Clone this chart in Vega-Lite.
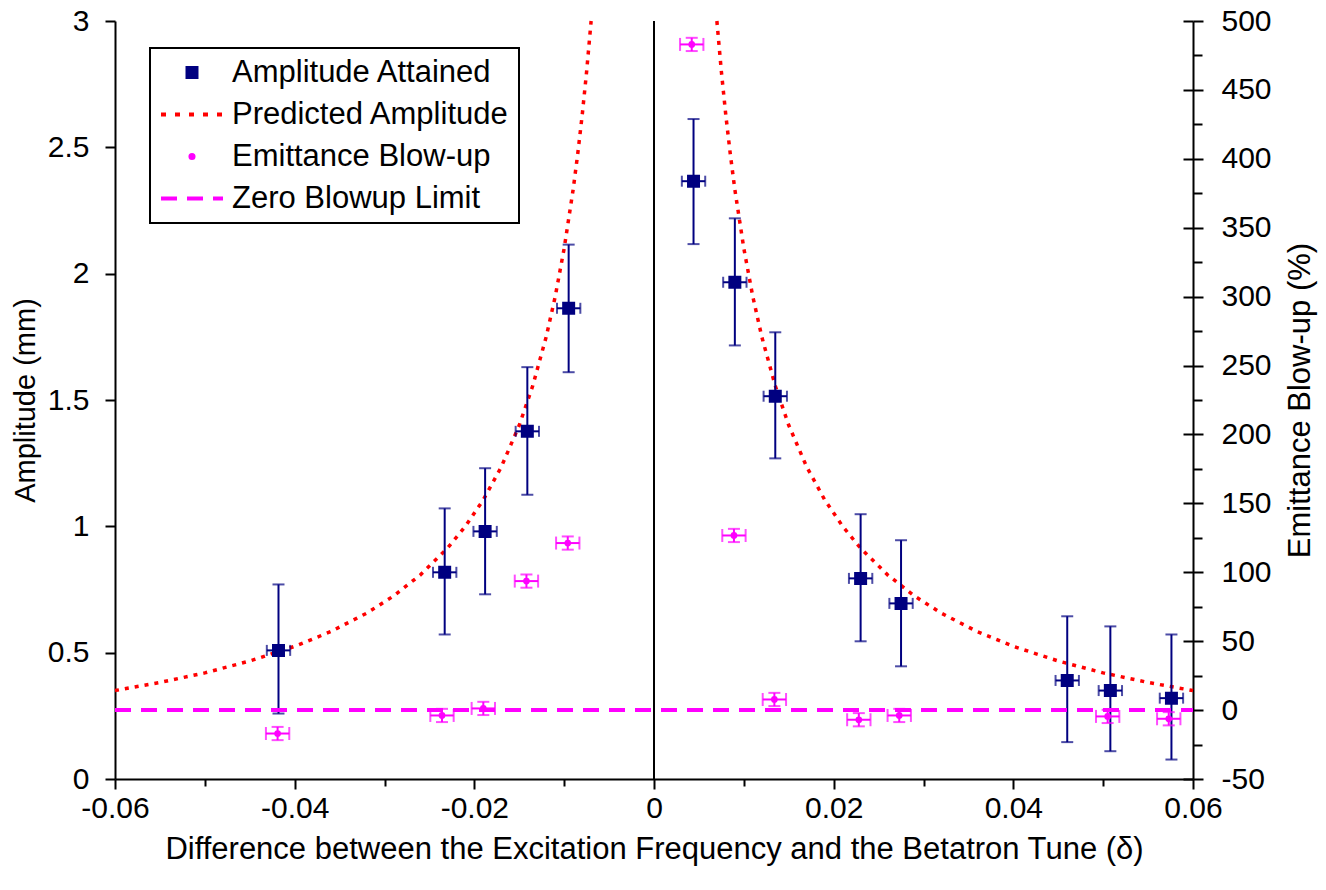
{
  "$schema": "https://vega.github.io/schema/vega-lite/v6.json",
  "width": 1078,
  "height": 758,
  "autosize": {"type": "none"},
  "padding": {"left": 115, "top": 21, "right": 133, "bottom": 111},
  "background": "white",
  "config": {
    "view": {"stroke": null},
    "font": "Liberation Sans",
    "legend": {"strokeWidth": 2},
    "axis": {
      "labelFont": "Liberation Sans", "titleFont": "Liberation Sans",
      "labelColor": "black", "titleColor": "black",
      "tickColor": "black", "domainColor": "black",
      "tickWidth": 2, "domainWidth": 2, "grid": false,
      "labelFontSize": 30, "titleFontSize": 31, "titleFontWeight": "normal",
      "labelFlush": false, "labelOverlap": false
    }
  },
  "datasets": {
    "origin": [{"d": 0}],
    "curve": [
      {"d": -0.06, "A": 0.350, "branch": "L"},
      {"d": -0.055, "A": 0.382, "branch": "L"},
      {"d": -0.05, "A": 0.420, "branch": "L"},
      {"d": -0.045, "A": 0.467, "branch": "L"},
      {"d": -0.04, "A": 0.525, "branch": "L"},
      {"d": -0.036, "A": 0.583, "branch": "L"},
      {"d": -0.032, "A": 0.656, "branch": "L"},
      {"d": -0.029, "A": 0.724, "branch": "L"},
      {"d": -0.026, "A": 0.808, "branch": "L"},
      {"d": -0.023, "A": 0.913, "branch": "L"},
      {"d": -0.021, "A": 1.000, "branch": "L"},
      {"d": -0.019, "A": 1.105, "branch": "L"},
      {"d": -0.017, "A": 1.235, "branch": "L"},
      {"d": -0.015, "A": 1.400, "branch": "L"},
      {"d": -0.0135, "A": 1.556, "branch": "L"},
      {"d": -0.012, "A": 1.750, "branch": "L"},
      {"d": -0.011, "A": 1.909, "branch": "L"},
      {"d": -0.010, "A": 2.100, "branch": "L"},
      {"d": -0.009, "A": 2.333, "branch": "L"},
      {"d": -0.0085, "A": 2.471, "branch": "L"},
      {"d": -0.008, "A": 2.625, "branch": "L"},
      {"d": -0.0075, "A": 2.800, "branch": "L"},
      {"d": -0.007, "A": 3.000, "branch": "L"},
      {"d": 0.007, "A": 3.000, "branch": "R"},
      {"d": 0.0075, "A": 2.800, "branch": "R"},
      {"d": 0.008, "A": 2.625, "branch": "R"},
      {"d": 0.0085, "A": 2.471, "branch": "R"},
      {"d": 0.009, "A": 2.333, "branch": "R"},
      {"d": 0.010, "A": 2.100, "branch": "R"},
      {"d": 0.011, "A": 1.909, "branch": "R"},
      {"d": 0.012, "A": 1.750, "branch": "R"},
      {"d": 0.0135, "A": 1.556, "branch": "R"},
      {"d": 0.015, "A": 1.400, "branch": "R"},
      {"d": 0.017, "A": 1.235, "branch": "R"},
      {"d": 0.019, "A": 1.105, "branch": "R"},
      {"d": 0.021, "A": 1.000, "branch": "R"},
      {"d": 0.023, "A": 0.913, "branch": "R"},
      {"d": 0.026, "A": 0.808, "branch": "R"},
      {"d": 0.029, "A": 0.724, "branch": "R"},
      {"d": 0.032, "A": 0.656, "branch": "R"},
      {"d": 0.036, "A": 0.583, "branch": "R"},
      {"d": 0.04, "A": 0.525, "branch": "R"},
      {"d": 0.045, "A": 0.467, "branch": "R"},
      {"d": 0.05, "A": 0.420, "branch": "R"},
      {"d": 0.055, "A": 0.382, "branch": "R"},
      {"d": 0.06, "A": 0.350, "branch": "R"}
    ],
    "amp": [
      {"d": -0.0418, "A": 0.509, "Alo": 0.259, "Ahi": 0.770, "dlo": -0.0431, "dhi": -0.0405, "series": "Amplitude Attained"},
      {"d": -0.0233, "A": 0.818, "Alo": 0.572, "Ahi": 1.071, "dlo": -0.0246, "dhi": -0.0220, "series": "Amplitude Attained"},
      {"d": -0.0188, "A": 0.980, "Alo": 0.731, "Ahi": 1.230, "dlo": -0.0201, "dhi": -0.0175, "series": "Amplitude Attained"},
      {"d": -0.0141, "A": 1.376, "Alo": 1.125, "Ahi": 1.630, "dlo": -0.0154, "dhi": -0.0128, "series": "Amplitude Attained"},
      {"d": -0.0095, "A": 1.863, "Alo": 1.610, "Ahi": 2.115, "dlo": -0.0108, "dhi": -0.0082, "series": "Amplitude Attained"},
      {"d": 0.0044, "A": 2.366, "Alo": 2.117, "Ahi": 2.612, "dlo": 0.0031, "dhi": 0.0057, "series": "Amplitude Attained"},
      {"d": 0.0090, "A": 1.966, "Alo": 1.716, "Ahi": 2.219, "dlo": 0.0077, "dhi": 0.0103, "series": "Amplitude Attained"},
      {"d": 0.0135, "A": 1.515, "Alo": 1.269, "Ahi": 1.768, "dlo": 0.0122, "dhi": 0.0148, "series": "Amplitude Attained"},
      {"d": 0.0230, "A": 0.794, "Alo": 0.545, "Ahi": 1.048, "dlo": 0.0217, "dhi": 0.0243, "series": "Amplitude Attained"},
      {"d": 0.0275, "A": 0.695, "Alo": 0.446, "Ahi": 0.945, "dlo": 0.0262, "dhi": 0.0288, "series": "Amplitude Attained"},
      {"d": 0.0460, "A": 0.390, "Alo": 0.146, "Ahi": 0.644, "dlo": 0.0447, "dhi": 0.0473, "series": "Amplitude Attained"},
      {"d": 0.0508, "A": 0.350, "Alo": 0.110, "Ahi": 0.604, "dlo": 0.0495, "dhi": 0.0521, "series": "Amplitude Attained"},
      {"d": 0.0576, "A": 0.320, "Alo": 0.077, "Ahi": 0.572, "dlo": 0.0563, "dhi": 0.0589, "series": "Amplitude Attained"}
    ],
    "emit": [
      {"d": -0.0419, "E": -17, "Elo": -21.8, "Ehi": -12.2, "dlo": -0.0432, "dhi": -0.0406},
      {"d": -0.0236, "E": -3.9, "Elo": -8.7, "Ehi": 0.9, "dlo": -0.0249, "dhi": -0.0223},
      {"d": -0.0190, "E": 1.2, "Elo": -3.6, "Ehi": 6.0, "dlo": -0.0203, "dhi": -0.0177},
      {"d": -0.0142, "E": 93.6, "Elo": 88.8, "Ehi": 98.4, "dlo": -0.0155, "dhi": -0.0129},
      {"d": -0.0096, "E": 121.2, "Elo": 116.4, "Ehi": 126.0, "dlo": -0.0109, "dhi": -0.0083},
      {"d": 0.0042, "E": 483, "Elo": 478.2, "Ehi": 487.8, "dlo": 0.0029, "dhi": 0.0055},
      {"d": 0.0089, "E": 126.7, "Elo": 121.9, "Ehi": 131.5, "dlo": 0.0076, "dhi": 0.0102},
      {"d": 0.0134, "E": 7.7, "Elo": 2.9, "Ehi": 12.5, "dlo": 0.0121, "dhi": 0.0147},
      {"d": 0.0228, "E": -7.0, "Elo": -11.8, "Ehi": -2.2, "dlo": 0.0215, "dhi": 0.0241},
      {"d": 0.0273, "E": -3.9, "Elo": -8.7, "Ehi": 0.9, "dlo": 0.0260, "dhi": 0.0286},
      {"d": 0.0505, "E": -4.6, "Elo": -9.4, "Ehi": 0.2, "dlo": 0.0492, "dhi": 0.0518},
      {"d": 0.0573, "E": -6.3, "Elo": -11.1, "Ehi": -1.5, "dlo": 0.0560, "dhi": 0.0586}
    ],
    "zero": [{"d": -0.06, "E": 0}, {"d": 0.06, "E": 0}]
  },
  "resolve": {
    "scale": {"x": "shared", "y": "independent"},
    "axis": {"x": "independent", "y": "independent"}
  },
  "layer": [
    {
      "data": {"name": "origin"},
      "mark": {"type": "rule", "color": "black", "strokeWidth": 2},
      "encoding": {
        "x": {
          "field": "d", "type": "quantitative",
          "scale": {"domain": [-0.06, 0.06], "nice": false, "zero": false},
          "axis": {
            "orient": "bottom",
            "values": [-0.06, -0.04, -0.02, 0, 0.02, 0.04, 0.06],
            "labelExpr": "'' + round(datum.value * 100) / 100",
            "tickSize": 10, "labelPadding": 4,
            "title": "Difference between the Excitation Frequency and the Betatron Tune (δ)",
            "titlePadding": 11
          }
        }
      }
    },
    {
      "data": {"name": "curve"},
      "mark": {"type": "line", "color": "#ff0000", "strokeWidth": 3.5, "strokeDash": [4, 6]},
      "encoding": {
        "x": {"field": "d", "type": "quantitative", "scale": {"domain": [-0.06, 0.06], "nice": false, "zero": false}, "axis": null},
        "y": {
          "field": "A", "type": "quantitative",
          "scale": {"domain": [0, 3], "nice": false, "zero": false},
          "axis": {
            "orient": "left",
            "values": [0, 0.5, 1, 1.5, 2, 2.5, 3],
            "labelExpr": "'' + datum.value",
            "tickSize": 10, "labelPadding": 16,
            "title": "Amplitude (mm)", "titleFontSize": 29, "titlePadding": 7
          }
        },
        "detail": {"field": "branch"}
      }
    },
    {
      "data": {"name": "amp"},
      "mark": {"type": "errorbar", "ticks": true, "size": 12, "thickness": 2, "color": "#000080"},
      "encoding": {
        "x": {"field": "d", "type": "quantitative", "scale": {"domain": [-0.06, 0.06], "nice": false, "zero": false}, "axis": null},
        "y": {"field": "Alo", "type": "quantitative", "scale": {"domain": [0, 3], "nice": false, "zero": false}, "axis": null},
        "y2": {"field": "Ahi"}
      }
    },
    {
      "data": {"name": "amp"},
      "mark": {"type": "errorbar", "ticks": true, "size": 11, "thickness": 2, "color": "#000080"},
      "encoding": {
        "x": {"field": "dlo", "type": "quantitative", "scale": {"domain": [-0.06, 0.06], "nice": false, "zero": false}, "axis": null},
        "x2": {"field": "dhi"},
        "y": {"field": "A", "type": "quantitative", "scale": {"domain": [0, 3], "nice": false, "zero": false}, "axis": null}
      }
    },
    {
      "data": {"name": "amp"},
      "mark": {"type": "point", "filled": true, "opacity": 1, "strokeWidth": 4, "size": 3844, "strokeJoin": "miter"},
      "encoding": {
        "x": {"field": "d", "type": "quantitative", "scale": {"domain": [-0.06, 0.06], "nice": false, "zero": false}, "axis": null},
        "y": {"field": "A", "type": "quantitative", "scale": {"domain": [0, 3], "nice": false, "zero": false}, "axis": null},
        "color": {
          "field": "series", "type": "nominal", "title": null,
          "scale": {
            "domain": ["Amplitude Attained", "Predicted Amplitude", "Emittance Blow-up", "Zero Blowup Limit"],
            "range": ["#000080", "#ff0000", "#ff00ff", "#ff00ff"]
          },
          "legend": {
            "orient": "none", "legendX": 35, "legendY": 27, "title": null,
            "labelFont": "Liberation Sans", "labelFontSize": 31, "labelColor": "black",
            "labelLimit": 600, "labelOffset": 7, "padding": 9, "rowPadding": 10, "clipHeight": 31,
            "symbolSize": 3844, "symbolStrokeWidth": 4, "strokeColor": "black", "fillColor": "white"
          }
        },
        "stroke": {
          "field": "series", "type": "nominal", "title": null,
          "scale": {
            "domain": ["Amplitude Attained", "Predicted Amplitude", "Emittance Blow-up", "Zero Blowup Limit"],
            "range": ["#000080", "#ff0000", "#ff00ff", "#ff00ff"]
          },
          "legend": {
            "orient": "none", "legendX": 35, "legendY": 27, "title": null,
            "labelFont": "Liberation Sans", "labelFontSize": 31, "labelColor": "black",
            "labelLimit": 600, "labelOffset": 7, "padding": 9, "rowPadding": 10, "clipHeight": 31,
            "symbolSize": 3844, "symbolStrokeWidth": 4, "strokeColor": "black", "fillColor": "white"
          }
        },
        "shape": {
          "field": "series", "type": "nominal", "title": null,
          "scale": {
            "domain": ["Amplitude Attained", "Predicted Amplitude", "Emittance Blow-up", "Zero Blowup Limit"],
            "range": [
              "M-0.145,-0.145H0.145V0.145H-0.145Z",
              "M-1,0H1",
              "M-0.05,0A0.05,0.05,0,1,1,0.05,0A0.05,0.05,0,1,1,-0.05,0Z",
              "M-1,0H1"
            ]
          },
          "legend": {
            "orient": "none", "legendX": 35, "legendY": 27, "title": null,
            "labelFont": "Liberation Sans", "labelFontSize": 31, "labelColor": "black",
            "labelLimit": 600, "labelOffset": 7, "padding": 9, "rowPadding": 10, "clipHeight": 31,
            "symbolSize": 3844, "symbolStrokeWidth": 4, "strokeColor": "black", "fillColor": "white"
          }
        },
        "strokeDash": {
          "field": "series", "type": "nominal", "title": null,
          "scale": {
            "domain": ["Amplitude Attained", "Predicted Amplitude", "Emittance Blow-up", "Zero Blowup Limit"],
            "range": [[1000, 1], [5, 9], [1000, 1], [16, 10]]
          },
          "legend": {
            "orient": "none", "legendX": 35, "legendY": 27, "title": null,
            "labelFont": "Liberation Sans", "labelFontSize": 31, "labelColor": "black",
            "labelLimit": 600, "labelOffset": 7, "padding": 9, "rowPadding": 10, "clipHeight": 31,
            "symbolSize": 3844, "symbolStrokeWidth": 4, "strokeColor": "black", "fillColor": "white"
          }
        }
      }
    },
    {
      "data": {"name": "zero"},
      "mark": {"type": "line", "color": "#ff00ff", "strokeWidth": 4, "strokeDash": [16, 10]},
      "encoding": {
        "x": {
          "field": "d", "type": "quantitative",
          "scale": {"domain": [-0.06, 0.06], "nice": false, "zero": false},
          "axis": {
            "orient": "bottom",
            "values": [-0.05, -0.03, -0.01, 0.01, 0.03, 0.05],
            "tickSize": 7, "labels": false, "domain": false, "title": null
          }
        },
        "y": {
          "field": "E", "type": "quantitative",
          "scale": {"domain": [-50, 500], "nice": false, "zero": false},
          "axis": {
            "orient": "right",
            "values": [-25, 25, 75, 125, 175, 225, 275, 325, 375, 425, 475],
            "tickSize": 9, "labels": false, "domain": false, "title": null
          }
        }
      }
    },
    {
      "data": {"name": "emit"},
      "mark": {"type": "errorbar", "ticks": true, "size": 12, "thickness": 2, "color": "#ff00ff"},
      "encoding": {
        "x": {"field": "d", "type": "quantitative", "scale": {"domain": [-0.06, 0.06], "nice": false, "zero": false}, "axis": null},
        "y": {
          "field": "Elo", "type": "quantitative",
          "scale": {"domain": [-50, 500], "nice": false, "zero": false},
          "axis": {
            "orient": "right",
            "values": [-50, 0, 50, 100, 150, 200, 250, 300, 350, 400, 450, 500],
            "tickSize": -10, "labels": false, "domain": false, "title": null
          }
        },
        "y2": {"field": "Ehi"}
      }
    },
    {
      "data": {"name": "emit"},
      "mark": {"type": "errorbar", "ticks": true, "size": 13, "thickness": 2, "color": "#ff00ff"},
      "encoding": {
        "x": {"field": "dlo", "type": "quantitative", "scale": {"domain": [-0.06, 0.06], "nice": false, "zero": false}, "axis": null},
        "x2": {"field": "dhi"},
        "y": {"field": "E", "type": "quantitative", "scale": {"domain": [-50, 500], "nice": false, "zero": false}, "axis": null}
      }
    },
    {
      "data": {"name": "emit"},
      "mark": {"type": "point", "shape": "circle", "filled": true, "size": 45, "color": "#ff00ff", "opacity": 1},
      "encoding": {
        "x": {"field": "d", "type": "quantitative", "scale": {"domain": [-0.06, 0.06], "nice": false, "zero": false}, "axis": null},
        "y": {
          "field": "E", "type": "quantitative",
          "scale": {"domain": [-50, 500], "nice": false, "zero": false},
          "axis": {
            "orient": "right",
            "values": [-50, 0, 50, 100, 150, 200, 250, 300, 350, 400, 450, 500],
            "labelExpr": "'' + datum.value",
            "tickSize": 10, "labelPadding": 18,
            "title": "Emittance Blow-up (%)", "titleAngle": 270, "titleBaseline": "top", "titlePadding": 14
          }
        }
      }
    }
  ]
}
